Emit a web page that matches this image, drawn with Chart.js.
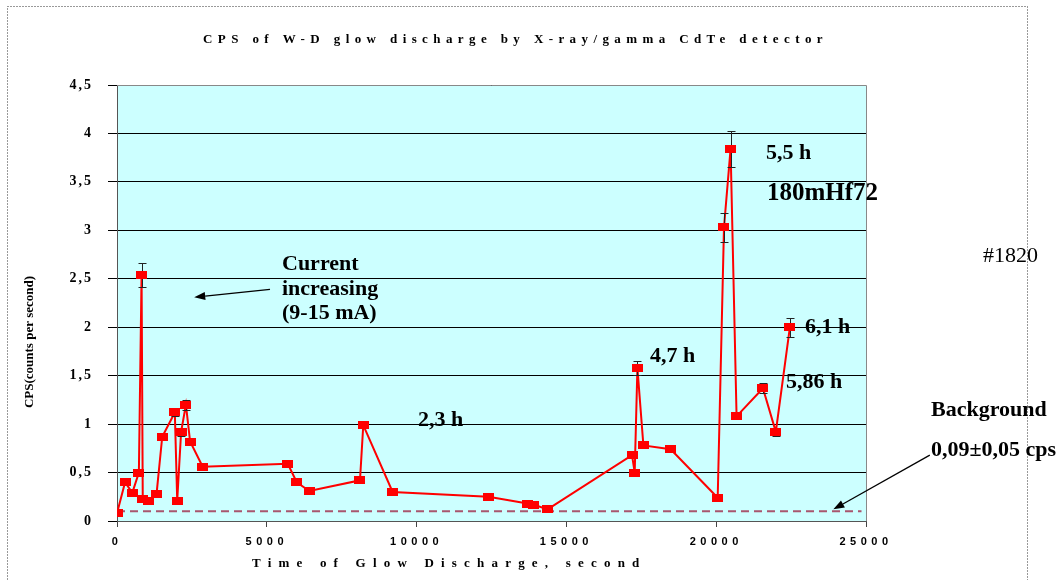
<!DOCTYPE html>
<html>
<head>
<meta charset="utf-8">
<title>CPS of W-D glow discharge</title>
<script src="https://cdn.jsdelivr.net/npm/chart.js@4.4.1/dist/chart.umd.min.js"></script>
<style>
  html, body { margin: 0; padding: 0; background: #fff; }
  #wrap { width: 1057px; height: 580px; }
</style>
</head>
<body>
<div id="wrap"><canvas id="chart" width="1057" height="580"></canvas></div>
<script>
// time of glow discharge, seconds
const timeSec = [0, 270, 510, 730, 820, 860, 1050, 1320, 1510, 1930, 2010, 2140, 2300, 2440, 2860,
  5700, 6000, 6420, 8110, 8220, 9200, 12400, 13700, 13900, 14370,
  17190, 17280, 17370, 17570, 18480, 20050, 20260, 20480, 20680, 21560, 21990, 22460];
// counts per second
const cps = [0.08, 0.40, 0.29, 0.50, 2.54, 0.23, 0.21, 0.28, 0.87, 1.12, 0.21, 0.92, 1.20, 0.82, 0.56,
  0.59, 0.40, 0.31, 0.42, 0.99, 0.30, 0.25, 0.18, 0.17, 0.12,
  0.68, 0.50, 1.58, 0.78, 0.74, 0.24, 3.03, 3.84, 1.08, 1.37, 0.92, 2.00];
// error of each point (0 = too small to show past the marker)
const cpsErr = [0, 0, 0, 0, 0.12, 0, 0, 0, 0.03, 0.04, 0, 0.04, 0.05, 0, 0,
  0, 0, 0, 0, 0.03, 0, 0, 0, 0, 0,
  0, 0, 0.07, 0.03, 0, 0, 0.15, 0.19, 0.03, 0.05, 0.04, 0.10];

// detector background level
const bgLevel = 0.1;
const bgFrom = 0;
const bgTo = 24850;

const xTicks = [0, 5000, 10000, 15000, 20000, 25000];
const yTicks = [0, 0.5, 1, 1.5, 2, 2.5, 3, 3.5, 4, 4.5];

const titleText = 'CPS of W-D glow discharge by X-ray/gamma CdTe detector';
const xTitle = 'Time of Glow Discharge, second';
const yTitle = 'CPS(counts per second)';

// text boxes, anchored in data units (seconds, cps)
const notes = [
  { text: 'Current', x: 5507, y: 2.59 },
  { text: 'increasing', x: 5507, y: 2.33 },
  { text: '(9-15 mA)', x: 5507, y: 2.08 },
  { text: '2,3 h', x: 10047, y: 0.98 },
  { text: '4,7 h', x: 17790, y: 1.64 },
  { text: '5,5 h', x: 21662, y: 3.74 },
  { text: '180mHf72', x: 21696, y: 3.31, size: 25 },
  { text: '6,1 h', x: 22964, y: 1.94 },
  { text: '5,86 h', x: 22329, y: 1.37 },
  { text: '#1820', x: 28905, y: 2.67, weight: 'normal' },
  { text: 'Background', x: 27170, y: 1.08 },
  { text: '0,09\u00b10,05 cps', x: 27170, y: 0.67 }
];
const arrows = [
  { from: [5107, 2.39], to: [2577, 2.31] },
  { from: [27130, 0.68], to: [23910, 0.12] }
];

const serif = '"Liberation Serif", "Times New Roman", serif';

const points = timeSec.map((t, i) => ({ x: t, y: cps[i] }));

// red rectangular marker
const marker = document.createElement('canvas');
marker.width = 11;
marker.height = 8;
const mctx = marker.getContext('2d');
mctx.fillStyle = '#ff0000';
mctx.fillRect(0, 0, 11, 8);

function drawArrow(ctx, x1, y1, x2, y2) {
  const a = Math.atan2(y2 - y1, x2 - x1);
  const len = 11, half = 4;
  const bx = x2 - len * Math.cos(a), by = y2 - len * Math.sin(a);
  ctx.beginPath();
  ctx.moveTo(x1, y1);
  ctx.lineTo(bx, by);
  ctx.stroke();
  ctx.beginPath();
  ctx.moveTo(x2, y2);
  ctx.lineTo(bx + half * Math.sin(a), by - half * Math.cos(a));
  ctx.lineTo(bx - half * Math.sin(a), by + half * Math.cos(a));
  ctx.closePath();
  ctx.fill();
}

// widen the tick labels of one axis
function trackLabels(scale, spacing) {
  if (scale._tracked) return;
  const drawLabels = scale.drawLabels;
  scale.drawLabels = function (area) {
    const c = this.ctx;
    c.save();
    c.letterSpacing = spacing;
    drawLabels.call(this, area);
    c.restore();
  };
  scale._tracked = true;
}

const decor = {
  id: 'decor',
  beforeDraw(chart) {
    const { ctx, chartArea: a, width, height } = chart;
    trackLabels(chart.scales.x, '4.5px');
    trackLabels(chart.scales.y, '2px');
    ctx.save();
    ctx.fillStyle = '#fff';
    ctx.fillRect(0, 0, width, height);
    ctx.fillStyle = '#ccffff';
    ctx.fillRect(a.left, a.top, a.right - a.left, a.bottom - a.top);
    ctx.strokeStyle = '#333';
    ctx.lineWidth = 1;
    ctx.setLineDash([1, 2]);
    ctx.strokeRect(7.5, 6.5, 1020, 600);
    ctx.restore();
  },
  afterDatasetDraw(chart, args) {
    if (args.index !== 1) return;
    const { ctx, scales: { x, y } } = chart;
    ctx.save();
    ctx.strokeStyle = '#222';
    ctx.lineWidth = 1;
    timeSec.forEach((t, i) => {
      if (!cpsErr[i]) return;
      const px = Math.round(x.getPixelForValue(t)) + 0.5;
      const top = Math.round(y.getPixelForValue(cps[i] + cpsErr[i])) + 0.5;
      const bot = Math.round(y.getPixelForValue(cps[i] - cpsErr[i])) + 0.5;
      ctx.beginPath();
      ctx.moveTo(px, top); ctx.lineTo(px, bot);
      ctx.moveTo(px - 4, top); ctx.lineTo(px + 4, top);
      ctx.moveTo(px - 4, bot); ctx.lineTo(px + 4, bot);
      ctx.stroke();
    });
    ctx.restore();
  },
  afterDraw(chart) {
    const { ctx, chartArea: a, scales: { x, y } } = chart;
    ctx.save();

    // plot frame, top and right
    ctx.strokeStyle = '#888';
    ctx.lineWidth = 1;
    ctx.beginPath();
    ctx.moveTo(a.left, Math.round(a.top) + 0.5);
    ctx.lineTo(Math.round(a.right) + 0.5, Math.round(a.top) + 0.5);
    ctx.lineTo(Math.round(a.right) + 0.5, a.bottom);
    ctx.stroke();

    ctx.fillStyle = '#000';
    ctx.textBaseline = 'alphabetic';
    ctx.textAlign = 'left';

    ctx.font = 'bold 13px ' + serif;
    ctx.letterSpacing = '5.4px';
    ctx.fillText(titleText, 203, 43);

    ctx.font = 'bold 13px ' + serif;
    ctx.letterSpacing = '7.2px';
    ctx.fillText(xTitle, 252, 567);

    ctx.letterSpacing = '0px';
    ctx.save();
    ctx.translate(30, 342);
    ctx.rotate(-Math.PI / 2);
    ctx.textAlign = 'center';
    ctx.textBaseline = 'middle';
    ctx.font = 'bold 13px ' + serif;
    ctx.fillText(yTitle, 0, 0);
    ctx.restore();

    notes.forEach(n => {
      ctx.font = (n.weight || 'bold') + ' ' + (n.size || 22) + 'px ' + serif;
      ctx.fillText(n.text, x.getPixelForValue(n.x), y.getPixelForValue(n.y));
    });

    ctx.strokeStyle = '#000';
    ctx.fillStyle = '#000';
    ctx.lineWidth = 1.3;
    arrows.forEach(r => {
      drawArrow(ctx,
        x.getPixelForValue(r.from[0]), y.getPixelForValue(r.from[1]),
        x.getPixelForValue(r.to[0]), y.getPixelForValue(r.to[1]));
    });
    ctx.restore();
  }
};

new Chart(document.getElementById('chart'), {
  type: 'line',
  data: {
    datasets: [
      {
        label: 'markers',
        data: points,
        showLine: false,
        pointStyle: marker,
        pointRadius: 6,
        pointHoverRadius: 6
      },
      {
        label: 'CPS',
        data: points,
        borderColor: '#ff0000',
        borderWidth: 2,
        pointRadius: 0,
        tension: 0
      },
      {
        label: 'Background',
        data: [{ x: bgFrom, y: bgLevel }, { x: bgTo, y: bgLevel }],
        borderColor: '#a8566e',
        borderWidth: 2,
        borderDash: [8, 5],
        pointRadius: 0
      }
    ]
  },
  options: {
    responsive: false,
    animation: false,
    events: [],
    layout: { padding: { top: 85, right: 191, bottom: 0, left: 0 } },
    plugins: {
      legend: { display: false },
      tooltip: { enabled: false }
    },
    scales: {
      x: {
        type: 'linear',
        min: 0,
        max: 25000,
        afterFit(s) { s.height = 59; },
        afterBuildTicks(s) { s.ticks = xTicks.map(v => ({ value: v })); },
        grid: { drawOnChartArea: false, tickLength: 6, color: '#444' },
        border: { color: '#555' },
        ticks: {
          color: '#000',
          padding: 8,
          maxRotation: 0,
          font: { family: '"Liberation Sans", Arial, sans-serif', weight: 'bold', size: 11 },
          callback: v => String(v)
        }
      },
      y: {
        min: 0,
        max: 4.5,
        afterFit(s) { s.width = 117; },
        afterBuildTicks(s) { s.ticks = yTicks.map(v => ({ value: v })); },
        grid: { color: '#000', tickLength: 9 },
        border: { color: '#555' },
        ticks: {
          color: '#000',
          padding: 15,
          font: { family: serif, weight: 'bold', size: 14 },
          callback: v => String(v).replace('.', ',')
        }
      }
    }
  },
  plugins: [decor]
});
</script>
</body>
</html>
